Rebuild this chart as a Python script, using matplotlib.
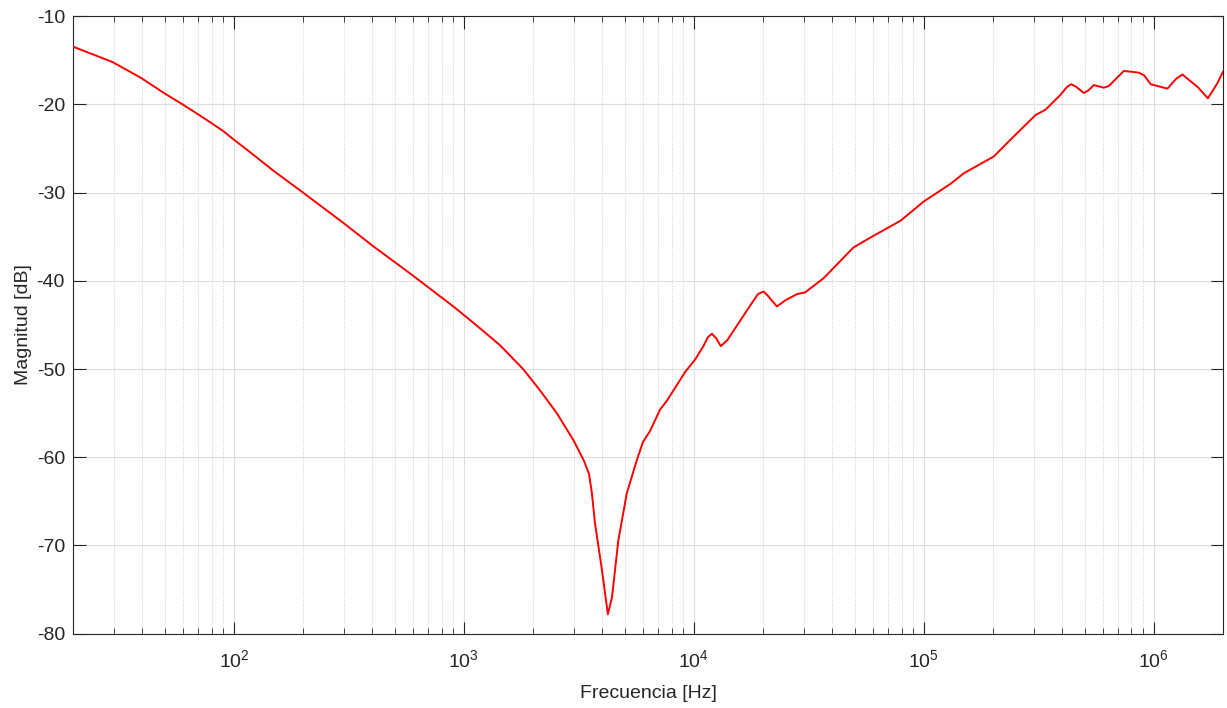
import matplotlib.pyplot as plt
from matplotlib.ticker import LogLocator, NullFormatter, MultipleLocator

plt.rcParams['font.family'] = ['Liberation Sans', 'DejaVu Sans']
plt.rcParams['mathtext.fontset'] = 'custom'
plt.rcParams['mathtext.rm'] = 'Liberation Sans'
plt.rcParams['mathtext.it'] = 'Liberation Sans'
plt.rcParams['axes.unicode_minus'] = False

# Values (Hz, dB)
freq = [20, 29.7, 39.5, 49.6, 59, 69.7, 79.7, 89.6, 100, 111, 150, 200, 298,
        400, 600, 869, 961, 1178, 1436, 1810, 2140, 2535, 3000, 3327, 3500,
        3600, 3716, 3970, 4227, 4404, 4695, 5108, 5637, 6000, 6455, 7127, 7626,
        9182, 10140, 11000, 11500, 11970, 12500, 13100, 14000, 15920, 18000,
        19000, 20100, 21000, 22960, 25000, 28100, 30500, 36650, 49500, 59400,
        79000, 100000, 130700, 149200, 201500, 238000, 306000, 338000, 393000,
        420000, 438000, 460000, 497000, 520000, 549000, 607000, 638000, 741000,
        807000, 863000, 908000, 970000, 1147000, 1250000, 1333000, 1420000,
        1550000, 1720000, 1890000, 2000000]
mag = [-13.45, -15.2, -17.0, -18.7, -19.9, -21.1, -22.1, -23.0, -24.0, -24.9,
       -27.6, -30.0, -33.4, -36.0, -39.4, -42.6, -43.5, -45.4, -47.3, -50.0,
       -52.4, -55.0, -58.1, -60.4, -61.9, -64.0, -67.5, -72.5, -77.8, -75.9,
       -69.4, -64.1, -60.4, -58.3, -57.0, -54.6, -53.6, -50.3, -48.9, -47.4,
       -46.4, -46.0, -46.5, -47.4, -46.7, -44.5, -42.4, -41.5, -41.2, -41.7,
       -42.9, -42.2, -41.5, -41.3, -39.7, -36.2, -35.0, -33.2, -31.0, -29.0,
       -27.8, -25.9, -24.0, -21.2, -20.6, -18.9, -18.0, -17.7, -18.0, -18.7,
       -18.4, -17.8, -18.1, -17.9, -16.2, -16.3, -16.4, -16.7, -17.7, -18.2,
       -17.1, -16.6, -17.2, -18.0, -19.3, -17.6, -16.3]

fig = plt.figure(figsize=(12.27, 7.08), dpi=100)
ax = fig.add_axes([0.0597, 0.105, 0.937, 0.872])

ax.semilogx(freq, mag, color='red', linewidth=1.4, zorder=3)

ax.set_xlim(20, 2e6)
ax.set_ylim(-80, -10)
ax.yaxis.set_major_locator(MultipleLocator(10))
ax.xaxis.set_major_locator(LogLocator(base=10, numticks=20))
ax.xaxis.set_minor_locator(LogLocator(base=10, subs=range(2, 10), numticks=100))
ax.xaxis.set_minor_formatter(NullFormatter())

ax.grid(True, which='major', color='#dedede', linewidth=0.8, linestyle='-')
ax.grid(True, which='minor', axis='x', color='#cccccc', linewidth=0.7, linestyle=':')
ax.set_axisbelow(True)

gray = '#262626'
for s in ax.spines.values():
    s.set_color(gray)
    s.set_linewidth(0.8)
ax.tick_params(which='both', direction='in', top=True, right=True, colors=gray,
               labelsize=14)
ax.tick_params(which='major', length=9, width=0.8)
ax.tick_params(which='minor', length=4.5, width=0.6)
ax.tick_params(axis='x', which='major', pad=11)
ax.tick_params(axis='y', which='major', pad=6)

ax.set_xlabel('Frecuencia [Hz]', fontsize=14, color=gray, labelpad=10)
ax.set_ylabel('Magnitud [dB]', fontsize=14, color=gray, labelpad=3)

fig.savefig('out.png', dpi=100)
